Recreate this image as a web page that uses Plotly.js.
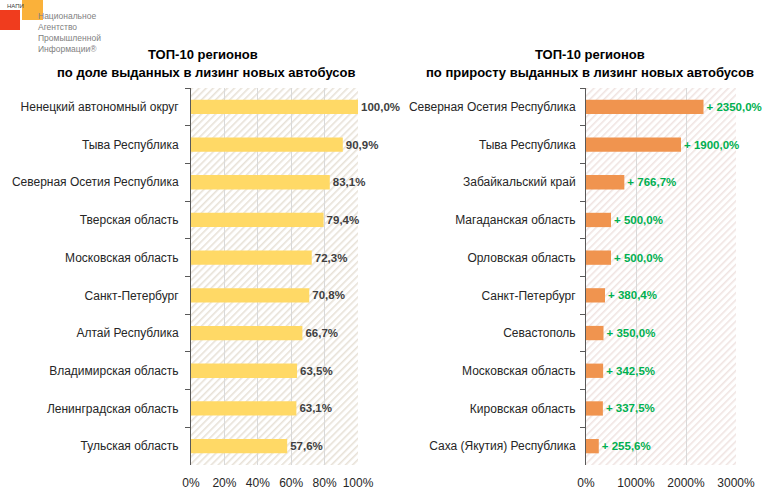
<!DOCTYPE html>
<html><head><meta charset="utf-8">
<script src="https://cdn.plot.ly/plotly-3.0.1.min.js"></script>
<style>html,body{margin:0;padding:0;background:#fff}#c{width:779px;height:494px}</style>
</head><body><div id="c"></div>
<script>
const shareRegions = ["Ненецкий автономный округ","Тыва Республика","Северная Осетия Республика","Тверская область","Московская область","Санкт-Петербург","Алтай Республика","Владимирская область","Ленинградская область","Тульская область"];
const shareValues = [100.0, 90.9, 83.1, 79.4, 72.3, 70.8, 66.7, 63.5, 63.1, 57.6];
const growthRegions = ["Северная Осетия Республика","Тыва Республика","Забайкальский край","Магаданская область","Орловская область","Санкт-Петербург","Севастополь","Московская область","Кировская область","Саха (Якутия) Республика"];
const growthValues = [2350.0, 1900.0, 766.7, 500.0, 500.0, 380.4, 350.0, 342.5, 337.5, 255.6];
const shareTicks = [0,20,40,60,80,100];
const shareTickText = ["0%","20%","40%","60%","80%","100%"];
const growthTicks = [0,1000,2000,3000];
const growthTickText = ["0%","1000%","2000%","3000%"];

const W=779,H=494;
const px=x=>x/W, py=y=>1-y/H;
const fmt=v=>v.toFixed(1).replace('.',',');

function hatch(w,h,col){
  const svg="<svg xmlns='http://www.w3.org/2000/svg' width='"+w+"' height='"+h+"'><defs><pattern id='p' width='5' height='5' patternUnits='userSpaceOnUse' patternTransform='rotate(45)'><rect width='1.6' height='5' fill='"+col+"'/></pattern></defs><rect width='100%' height='100%' fill='url(#p)'/></svg>";
  return "data:image/svg+xml;base64,"+btoa(svg);
}

const FF="Liberation Sans, Arial, sans-serif";
const lab={family:FF,size:12,color:"#262626"};
const traces=[
 {type:"bar",orientation:"h",x:shareValues,y:shareRegions,xaxis:"x",yaxis:"y",
  marker:{color:"#FFD966"},width:0.38,
  text:shareValues.map(v=>fmt(v)+"%"),textposition:"outside",cliponaxis:false,
  textfont:{family:FF,size:11.5,color:"#404040",weight:"bold"},hoverinfo:"none"},
 {type:"bar",orientation:"h",x:growthValues,y:growthRegions,xaxis:"x2",yaxis:"y2",
  marker:{color:"#F0944F"},width:0.38,
  text:growthValues.map(v=>"+ "+fmt(v)+"%"),textposition:"outside",cliponaxis:false,
  textfont:{family:FF,size:11.5,color:"#00B050",weight:"bold"},hoverinfo:"none"}
];
const L0=191,L1=358,R0=586,R1=736,T=88,B=465;
const xcommon={showgrid:true,gridcolor:"#D9D9D9",gridwidth:1,zeroline:false,ticks:"outside",ticklen:7,tickcolor:"rgba(0,0,0,0)",
   tickfont:{family:FF,size:12,color:"#262626"},fixedrange:true,automargin:false};
const ycommon={autorange:"reversed",type:"category",showline:true,linecolor:"#595959",linewidth:1,
   ticks:"outside",tickson:"boundaries",ticklen:5,tickcolor:"#595959",showgrid:false,
   tickfont:lab,automargin:false,fixedrange:true};
const layout={
 width:W,height:H,margin:{l:0,r:0,t:0,b:0},showlegend:false,
 paper_bgcolor:"#fff",plot_bgcolor:"rgba(0,0,0,0)",
 xaxis:Object.assign({domain:[px(L0),px(L1)],range:[0,100],tickvals:shareTicks,ticktext:shareTickText},xcommon),
 yaxis:Object.assign({domain:[py(B),py(T)],ticklabelstandoff:9},ycommon),
 xaxis2:Object.assign({domain:[px(R0),px(R1)],range:[0,3000],tickvals:growthTicks,ticktext:growthTickText,anchor:"y2"},xcommon),
 yaxis2:Object.assign({domain:[py(B),py(T)],anchor:"x2",ticklabelstandoff:7},ycommon),
 images:[
  {source:hatch(L1-L0,B-T,"#E8E2D8"),xref:"paper",yref:"paper",x:px(L0),y:py(T),sizex:px(L1)-px(L0),sizey:py(T)-py(B),sizing:"stretch",layer:"below",xanchor:"left",yanchor:"top"},
  {source:hatch(R1-R0,B-T,"#F0E4E2"),xref:"paper",yref:"paper",x:px(R0),y:py(T),sizex:px(R1)-px(R0),sizey:py(T)-py(B),sizing:"stretch",layer:"below",xanchor:"left",yanchor:"top"}
 ],
 shapes:[
  {type:"rect",xref:"paper",yref:"paper",x0:px(0),x1:px(20),y0:py(30),y1:py(10),fillcolor:"#F03C1E",line:{width:0}},
  {type:"rect",xref:"paper",yref:"paper",x0:px(22),x1:px(43),y0:py(20),y1:py(0),fillcolor:"#F9A825",line:{width:0},opacity:0.9}
 ],
 annotations:[
  {text:"<b>ТОП-10 регионов</b>",x:px(203)},
  {text:"<b>по доле выданных в лизинг новых автобусов</b>",x:px(206)},
  {text:"<b>ТОП-10 регионов</b>",x:px(590)},
  {text:"<b>по приросту выданных в лизинг новых автобусов</b>",x:px(590)}
 ].map((a,i)=>Object.assign(a,{xref:"paper",yref:"paper",xanchor:"center",yanchor:"middle",y:py(i%2?72:54),showarrow:false,
   font:{family:FF,size:13,color:"#000"}})).concat([
  {text:"НАПИ",xref:"paper",yref:"paper",x:px(5),y:py(6),xanchor:"left",yanchor:"middle",showarrow:false,font:{family:FF,size:6,color:"#404040"}},
  {text:"Национальное<br>Агентство<br>Промышленной<br>Информации®",xref:"paper",yref:"paper",x:px(36),y:py(9),xanchor:"left",yanchor:"top",align:"left",showarrow:false,
   font:{family:"Liberation Sans Narrow, Liberation Sans, Arial, sans-serif",size:8.5,color:"#7F7F7F"}}
 ])
};
Plotly.newPlot("c",traces,layout,{staticPlot:true,displayModeBar:false});
</script></body></html>
